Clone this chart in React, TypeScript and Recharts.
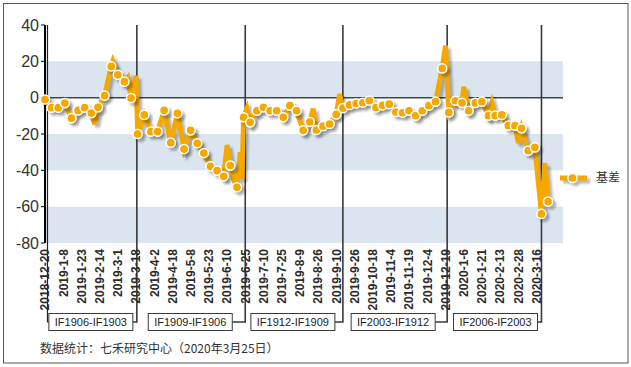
import React from 'react'
import { LineChart, Line, XAxis, YAxis, ReferenceArea, ReferenceLine } from 'recharts'

const ORANGE = '#f5a800'
const FONT = '"Liberation Sans", Arial, "Noto Sans CJK SC", sans-serif'
const CJK = '"Noto Sans CJK SC", "Liberation Sans", sans-serif'

// trading-day index (markers every 4th day) and basis value
const tradeDays = [
  0, 4, 8, 12, 16, 20, 24, 28, 30, 32, 36, 40, 41, 44, 48, 50, 52, 55,
  56, 60, 64, 68, 72, 76, 80, 84, 88, 92, 96, 100, 104, 108, 110, 112, 114, 116, 118, 119,
  120, 122, 124, 128, 132, 136, 140, 144, 148, 152, 156, 160, 162, 164, 168, 172, 176, 178,
  180, 184, 188, 192, 196, 200, 204, 208, 212, 216, 220, 224, 228, 232, 236, 240, 242,
  244, 248, 252, 253, 256, 260, 264, 268, 270, 272, 276, 280, 284, 286, 288, 292, 296, 300, 302, 304,
]
const basis = [
  -1, -5.5, -5.5, -3, -11.3, -7, -5.5, -8.5, -14.5, -5.3, 1.1, 17.2, 20, 12.6, 8.8, 11, -0.2, 12,
  -20, -9.5, -18.7, -18.7, -7, -24.8, -8.6, -28.3, -18, -25.1, -30.5, -37.8, -40.2, -43.3, -26, -37.4, -45, -49.3, -30, -45,
  -10.8, -6, -13.6, -7.2, -5.3, -7.2, -7.2, -10.8, -4.4, -7.2, -18, -13.4, -6, -17.8, -15.7, -14.5, -9.2, 2,
  -5.8, -4, -3.2, -2.8, -1.6, -5.4, -4.2, -3.6, -7.9, -8.3, -7.2, -9.9, -7.2, -4.4, -2.2, 16.1, 28.6,
  -8.1, -1.7, -2.9, 6, -7.2, -2.9, -2.2, -9.9, -3, -9.9, -9.5, -15.4, -15.4, -25, -16.9, -29.2, -27.4, -64, -36, -57.2,
]

const tickLabels = [
  '2018-12-20', '2019-1-8', '2019-1-23', '2019-2-14', '2019-3-1', '2019-3-18', '2019-4-2',
  '2019-4-18', '2019-5-8', '2019-5-23', '2019-6-10', '2019-6-25', '2019-7-10', '2019-7-25',
  '2019-8-9', '2019-8-26', '2019-9-10', '2019-9-26', '2019-10-18', '2019-11-4', '2019-11-19',
  '2019-12-4', '2019-12-19', '2020-1-6', '2020-1-21', '2020-2-13', '2020-2-28', '2020-3-16',
]
const tickDays = [
  0, 11, 22, 33, 44, 55, 66, 77, 88, 99, 110, 121, 132, 143,
  154, 165, 176, 187, 198, 209, 220, 231, 242, 253, 264, 275, 286, 297,
]

const yTicks = [40, 20, 0, -20, -40, -60, -80]
const bands = [[0, 20], [-20, -40], [-60, -80]]

const rollDays = [55.5, 121, 180, 243, 300]
const contracts = ['IF1906-IF1903', 'IF1909-IF1906', 'IF1912-IF1909', 'IF2003-IF1912', 'IF2006-IF2003']
const boxOffset = [88, 97, 92, 96, 88]
const BOX_W = 84
const BRACKET_Y = 322

const data = tradeDays.map((t, i) => ({ t, basis: basis[i] }))

function DateTick({ x, y, payload }: any) {
  const i = tickDays.indexOf(payload.value)
  return (
    <g transform={`translate(${x},${y}) rotate(-90)`}>
      <text x={0} y={0} dy={4.3} textAnchor="end" fontSize={12} fontWeight="bold" fill="#2a2a2a" fontFamily={FONT}>
        {tickLabels[i]}
      </text>
    </g>
  )
}

function BasisDot({ cx, cy, payload, index }: any) {
  if (payload.t % 4 !== 0) return <g key={index} />
  return <circle key={index} cx={cx} cy={cy} r={4.6} fill={ORANGE} stroke="#fff" strokeWidth={1.5} />
}

function rollShape(idx: number) {
  return (p: any) => {
    const x = p.x1
    const top = Math.min(p.y1, p.y2)
    const left = x - boxOffset[idx]
    return (
      <g>
        <path d={`M${x},${top}V${BRACKET_Y}H${left + BOX_W}`} fill="none" stroke="#3a3a3a" strokeWidth={1.6} />
        <rect x={left} y={313.5} width={BOX_W} height={17} fill="#fff" stroke="#3a3a3a" strokeWidth={1} />
        <text x={left + BOX_W / 2} y={326} textAnchor="middle" fontSize={11} fill="#222" fontFamily={FONT}>
          {contracts[idx]}
        </text>
      </g>
    )
  }
}

function startShape(p: any) {
  const x = p.x1
  const top = Math.min(p.y1, p.y2)
  return <path d={`M${x},${top}V${BRACKET_Y}H${x + 2}`} fill="none" stroke="#222" strokeWidth={1.2} />
}

export default function App() {
  return (
    <div style={{ position: 'absolute', left: 0, top: 0, width: 631, height: 367, background: '#fff' }}>
      <style>{`.recharts-line-curve, .recharts-line-dots { filter: drop-shadow(3px 3px 1px rgba(0,0,0,0.28)); }`}</style>
      <LineChart width={631} height={367} data={data} margin={{ top: 25, right: 68, bottom: 0, left: 0 }}>
        {bands.map(([a, b], i) => (
          <ReferenceArea key={i} y1={a} y2={b} fill="#dbe5f0" fillOpacity={1} stroke="none" />
        ))}
        <ReferenceLine y={0} stroke="#444" strokeWidth={1.5} />
        <XAxis
          dataKey="t"
          type="number"
          domain={[0, 313]}
          ticks={tickDays}
          interval={0}
          height={124}
          axisLine={false}
          tickLine={false}
          tickSize={4}
          tickMargin={2}
          tick={<DateTick />}
        />
        <YAxis
          domain={[-80, 40]}
          ticks={yTicks}
          interval={0}
          width={45}
          axisLine={{ stroke: '#000', strokeWidth: 2 }}
          tickLine={{ stroke: '#000' }}
          tickSize={4}
          tick={{ fontSize: 16, fill: '#333', fontFamily: FONT }}
        />
        <ReferenceLine x={1.5} shape={startShape} />
        {rollDays.map((d, i) => (
          <ReferenceLine key={d} x={d} shape={rollShape(i)} />
        ))}
        <Line
          type="linear"
          dataKey="basis"
          stroke={ORANGE}
          strokeWidth={5}
          dot={<BasisDot />}
          activeDot={false}
          isAnimationActive={false}
        />
      </LineChart>
      <svg width={631} height={367} style={{ position: 'absolute', left: 0, top: 0, pointerEvents: 'none' }}>
        <rect x={3.5} y={3.5} width={624.5} height={359.5} fill="none" stroke="#555" strokeWidth={1} />
        <g style={{ filter: 'drop-shadow(3px 3px 1px rgba(0,0,0,0.28))' }}>
          <line x1={560} y1={178} x2={587} y2={178} stroke={ORANGE} strokeWidth={5} />
          <circle cx={572.5} cy={178} r={4.6} fill={ORANGE} stroke="#fff" strokeWidth={1.5} />
        </g>
        <text x={596} y={182} fontSize={12} fill="#333" fontFamily={CJK}>基差</text>
        <text x={40} y={353} fontSize={12} fill="#333" fontFamily={CJK}>数据统计：七禾研究中心（2020年3月25日）</text>
      </svg>
    </div>
  )
}
